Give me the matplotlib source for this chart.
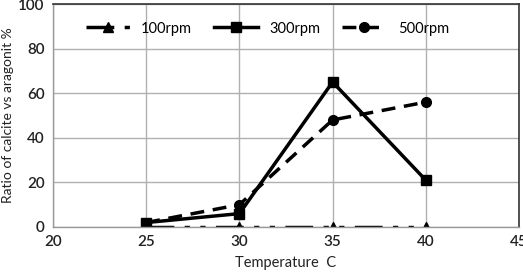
import matplotlib
matplotlib.use("Agg")
import matplotlib.pyplot as plt

temps = [25, 30, 35, 40]
rpm100 = [0, 0, 0, 0]
rpm300 = [2, 6, 65, 21]
rpm500 = [2, 10, 48, 56]

plt.rcParams['font.family'] = ['Lato', 'DejaVu Sans']
fig = plt.figure(figsize=(5.23, 2.73), dpi=100)
ax = fig.add_axes([53/523, 1-227/273, (519-53)/523, (227-4)/273])

ax.plot(temps, rpm100, color='black', lw=2.5, marker='^', ms=7,
        dashes=(8, 3, 1.5, 3, 1.5, 3), label='100rpm')
ax.plot(temps, rpm300, color='black', lw=2.5, marker='s', ms=7, label='300rpm')
ax.plot(temps, rpm500, color='black', lw=2.5, marker='o', ms=7,
        dashes=(4, 2.5), label='500rpm')

ax.set_xlim(20, 45)
ax.set_ylim(0, 100)
ax.set_xticks([20, 25, 30, 35, 40, 45])
ax.set_yticks([0, 20, 40, 60, 80, 100])
ax.grid(True, color='#b0b0b0', lw=1)
ax.set_axisbelow(True)
for s in ['top', 'right']:
    ax.spines[s].set_color('#333333')
    ax.spines[s].set_linewidth(1.2)
for s in ['left', 'bottom']:
    ax.spines[s].set_color('#999999')
    ax.spines[s].set_linewidth(1)
ax.tick_params(length=0, labelsize=11, colors='#222222', pad=6)
for t in ax.get_xticklabels() + ax.get_yticklabels():
    t.set_fontweight('semibold')
ax.set_xlabel('Temperature  C', fontsize=10.5, color='#222222', labelpad=5)
ax.set_ylabel('Ratio of calcite vs aragonit %', fontsize=10, color='#222222', labelpad=3)
ax.legend(loc='upper center', ncol=3, frameon=False, fontsize=10.5,
          bbox_to_anchor=(0.46, 0.98), handlelength=3, columnspacing=1.5)
fig.savefig('out.png', dpi=100)
